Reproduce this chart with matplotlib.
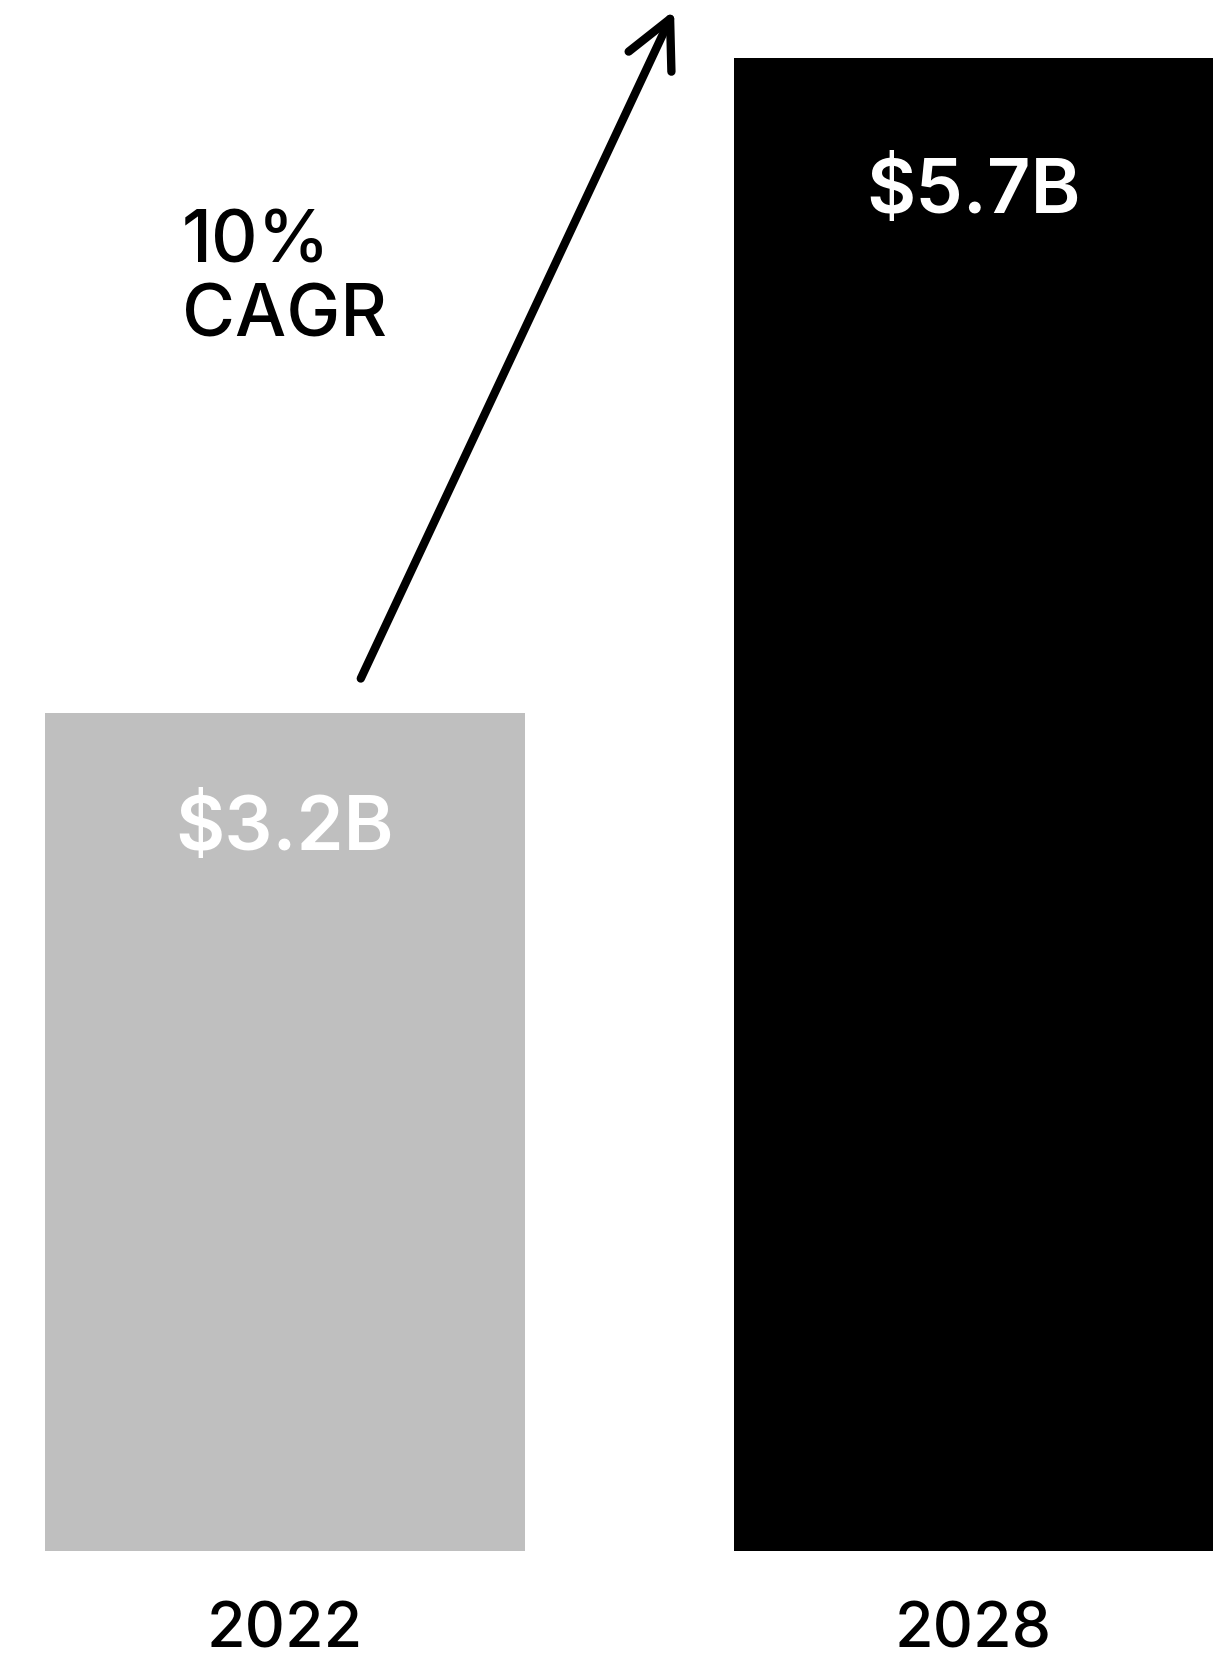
import matplotlib.pyplot as plt

plt.rcParams['font.family'] = ['Inter', 'DejaVu Sans']

years = ['2022', '2028']
market_size = [3.2, 5.7]  # billions USD
bar_colors = ['#bfbfbf', '#000000']
cagr_text = '10%\nCAGR'

# how far below each bar top the value label sits
label_drop = [0.45, 0.52]

fig = plt.figure(figsize=(12.3, 16.57), dpi=100)
ax = fig.add_axes([0, 106 / 1657, 1, 1 - 106 / 1657])

xs = list(range(len(years)))
ax.bar(xs, market_size, width=0.697, color=bar_colors)

for x, v, drop in zip(xs, market_size, label_drop):
    ax.text(x, v - drop, f'${v}B', color='white', fontsize=54.5,
            fontweight='semibold', ha='center', va='center')

# growth arrow from the 2022 bar toward the 2028 bar
ax.annotate('', xy=(0.565, 5.88), xytext=(0.110, 3.33),
            arrowprops=dict(arrowstyle='->', lw=6, color='black',
                            mutation_scale=85, shrinkA=0, shrinkB=0))

ax.text(-0.150, 5.12, cagr_text, fontsize=52, fontweight='medium',
        ha='left', va='top', linespacing=1.12, color='black')

ax.set_xlim(-0.414, 1.3725)
ax.set_ylim(0, 1551 / 262)
ax.set_xticks(xs)
ax.set_xticklabels(years, fontsize=45, fontweight='medium')
ax.tick_params(axis='x', length=0, pad=36)
ax.set_yticks([])
for s in ax.spines.values():
    s.set_visible(False)

fig.savefig('out.png', dpi=100)
